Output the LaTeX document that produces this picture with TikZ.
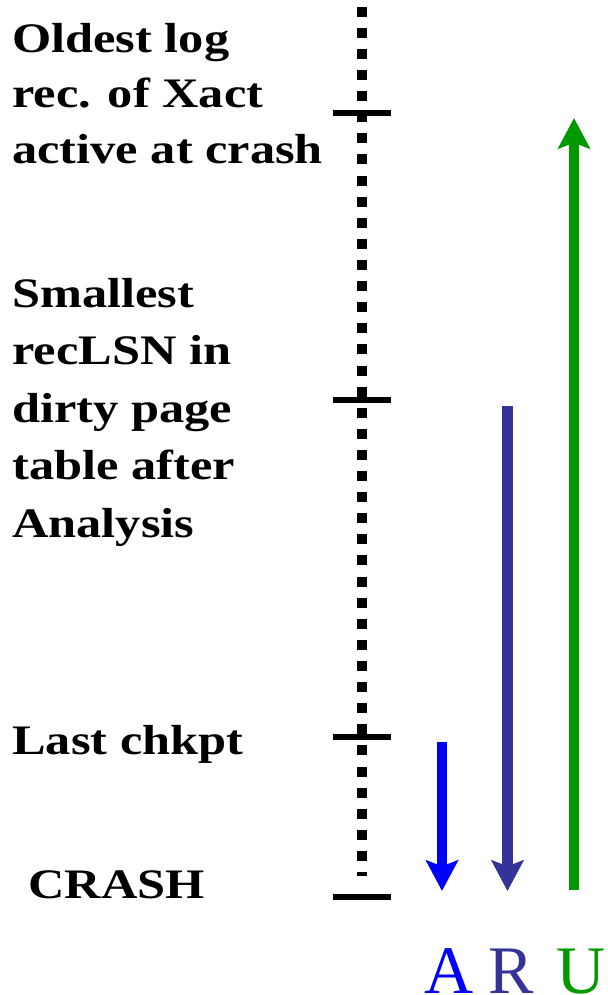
\documentclass[tikz,border=0pt]{standalone}
\usepackage{fontspec}
\setmainfont[FakeStretch=1.2]{Liberation Serif}
\newfontfamily\letterfont{Liberation Serif}
\usetikzlibrary{arrows.meta}
\definecolor{cA}{HTML}{0000FF}
\definecolor{cR}{HTML}{333399}
\definecolor{cU}{HTML}{009900}
\begin{document}
\begin{tikzpicture}[x=0.75pt,y=-0.75pt,
 lbl/.style={font=\fontsize{31.5}{42.4}\selectfont\bfseries, anchor=base west, inner sep=0pt, align=left},
 tickmark/.style={line width=4.2pt},
 timeline/.style={line width=7.8pt, dash pattern=on 7.5pt off 8.33pt},
 arr/.style={line width=7.8pt, -{Stealth[width=24pt,length=23pt,inset=4.5pt]}},
 letter/.style={font=\letterfont\fontsize{51}{51}\selectfont, anchor=base, inner sep=0pt}]
\useasboundingbox (0,0) rectangle (607,995);
% timeline
\coordinate (ltop) at (362,6.7);
\coordinate (lbot) at (362,876);
\draw[timeline] (ltop) -- (lbot);
% ticks
\coordinate (t1a) at (333,113);   \coordinate (t1b) at (391,113);
\coordinate (t2a) at (333,400);   \coordinate (t2b) at (391,400);
\coordinate (t3a) at (333,736.7); \coordinate (t3b) at (391,736.7);
\coordinate (t4a) at (333,896.8); \coordinate (t4b) at (391,896.8);
\draw[tickmark] (t1a) -- (t1b);
\draw[tickmark] (t2a) -- (t2b);
\draw[tickmark] (t3a) -- (t3b);
\draw[tickmark] (t4a) -- (t4b);
% labels (base anchor = baseline of the last line)
\node[lbl, font=\fontsize{31.5}{41.6}\selectfont\bfseries] (oldest) at (12,163) {Oldest log\\rec. of Xact\\active at crash};
\node[lbl, font=\fontsize{31.5}{43.1}\selectfont\bfseries] (smallest) at (12,537) {Smallest\\recLSN in\\dirty page\\table after\\Analysis};
\node[lbl] (chkpt) at (12,754) {Last chkpt};
\node[lbl] (crash) at (28,898) {CRASH};
% arrows
\coordinate (a1) at (442,742);   \coordinate (a2) at (442,891);
\coordinate (r1) at (507.5,406); \coordinate (r2) at (507.5,891);
\coordinate (u1) at (574,890);   \coordinate (u2) at (574,118);
\draw[arr,cA] (a1) -- (a2);
\draw[arr,cR] (r1) -- (r2);
\draw[arr,cU] (u1) -- (u2);
% letters
\node[letter,cA] (la) at (449,993) {A};
\node[letter,cR] (lr) at (511,993) {R};
\node[letter,cU] (lu) at (581,993) {U};
\end{tikzpicture}
\end{document}
